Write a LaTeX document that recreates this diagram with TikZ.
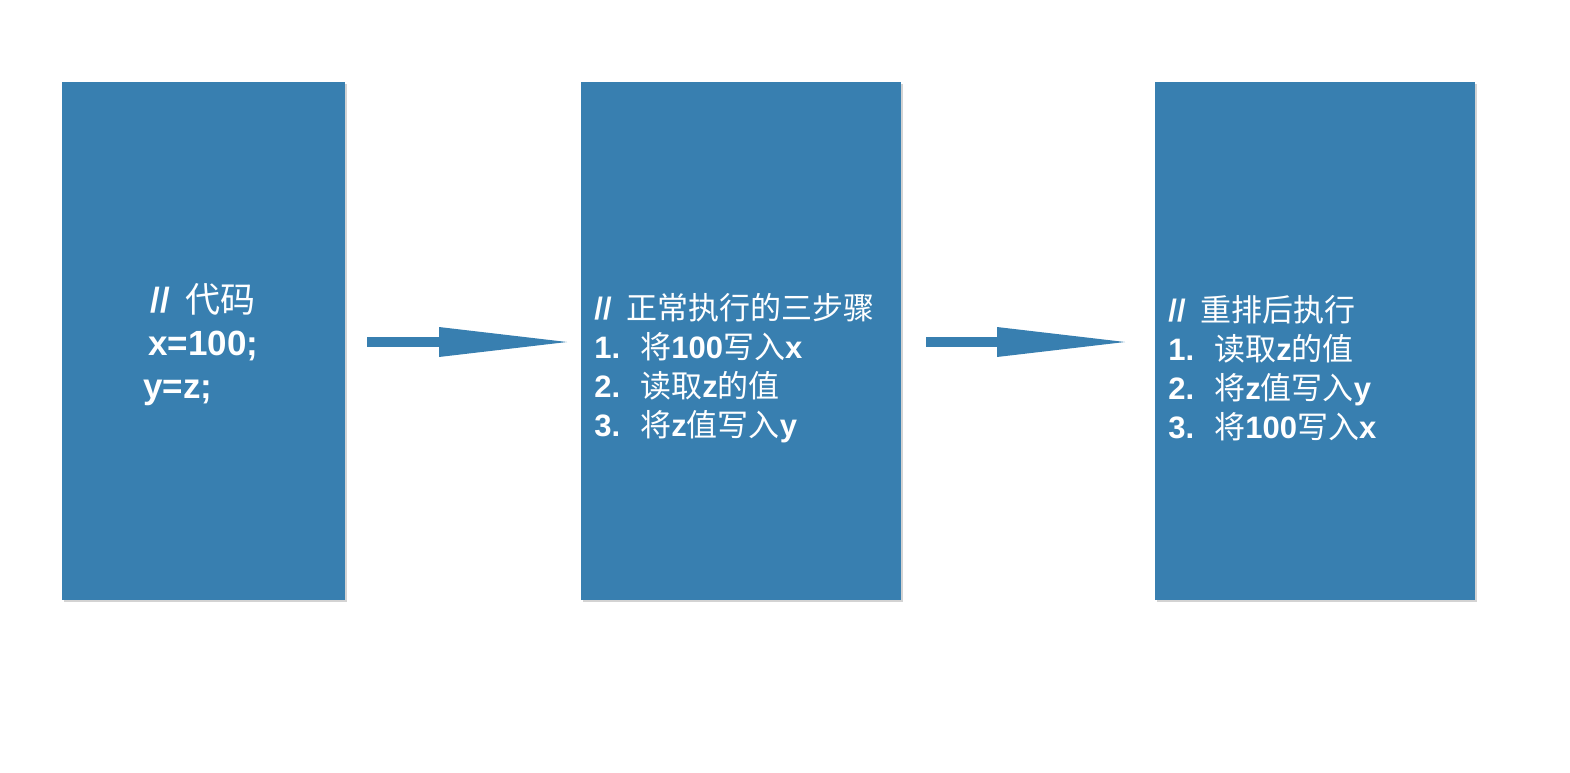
\documentclass[tikz,border=0pt]{standalone}
\usepackage{fontspec}
\setmainfont{Liberation Sans}
\newfontfamily\cjk{Noto Sans CJK SC}
\usetikzlibrary{arrows.meta,shadows}
\definecolor{paper}{RGB}{56,127,176}
\newcommand{\zh}[1]{{\cjk\mdseries #1}}
\newcommand{\stepno}[1]{\makebox[23pt][l]{#1}}

\begin{document}
\begin{tikzpicture}[x=0.5pt,y=-0.5pt,
		card/.style={fill=paper,draw=none,inner sep=0pt,minimum width=#1,minimum height=259pt,
			drop shadow={shadow xshift=0.8pt,shadow yshift=-1.2pt,opacity=0.35}},
		pointer/.style={draw=paper,line width=5pt,-{Triangle[length=64pt,width=15pt,line width=0pt]}},
		note/.style={text=white,align=left,inner sep=0pt,anchor=west}]
			\useasboundingbox (0,0) rectangle (1570,772);
			\coordinate (c1) at (203.5,341);
			\coordinate (c2) at (741,341);
			\coordinate (c3) at (1315,341);
			\coordinate (a1) at (367,342);
			\coordinate (b1) at (567,342);
			\coordinate (a2) at (926,342);
			\coordinate (b2) at (1125,342);
			
			\node (code) at (c1) [card=141.5pt] {};
			\node (normal) at (c2) [card=160pt] {};
			\node (reorder) at (c3) [card=160pt] {};
			
			\draw[pointer] (a1) -- (b1);
			\draw[pointer] (a2) -- (b2);
			
			\node (codetxt) at (143,345) [note,font=\bfseries\fontsize{17.5pt}{21.5pt}\selectfont]
				{\hspace*{3.5pt}//\hspace{3pt} \zh{代码}\\ \hspace*{2.5pt}x=100;\\ y=z;};
			\node (normaltxt) at (594,368) [note,font=\bfseries\fontsize{15.5pt}{19.5pt}\selectfont]
				{//\hspace{3pt} \zh{正常执行的三步骤}\\ \stepno{1.}\zh{将}100\zh{写入}x\\ \stepno{2.}\zh{读取}z\zh{的值}\\ \stepno{3.}\zh{将}z\zh{值写入}y};
			\node (reordertxt) at (1168,368) [note,font=\bfseries\fontsize{15.5pt}{19.5pt}\selectfont]
				{//\hspace{3pt} \zh{重排后执行}\\ \stepno{1.}\zh{读取}z\zh{的值}\\ \stepno{2.}\zh{将}z\zh{值写入}y\\ \stepno{3.}\zh{将}100\zh{写入}x};
		\end{tikzpicture}
\end{document}
